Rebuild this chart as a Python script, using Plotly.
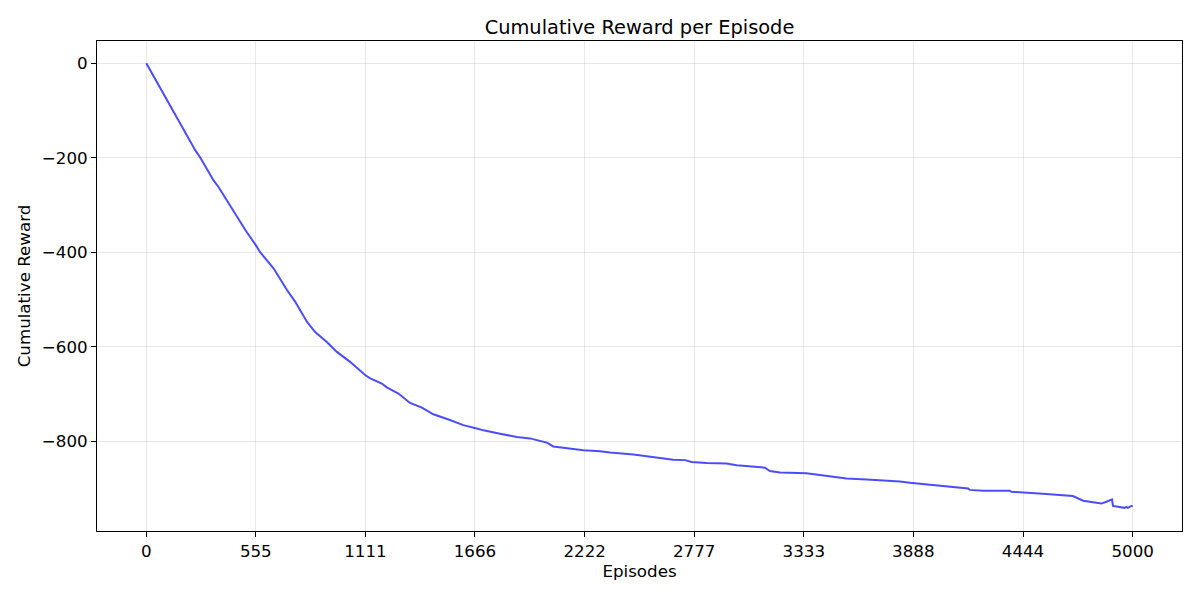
import plotly.graph_objects as go

# points (episode, cumulative reward)
episodes = [0, 248, 274, 341, 366, 468, 502, 555, 577, 645, 713, 755, 780, 814,
            856, 915, 966, 1033, 1109, 1135, 1194, 1219, 1278, 1337, 1397, 1455,
            1532, 1591, 1607, 1675, 1709, 1793, 1878, 1945, 2030, 2063, 2131, 2215,
            2300, 2351, 2469, 2553, 2604, 2671, 2731, 2764, 2840, 2941, 2992, 3060,
            3136, 3161, 3212, 3347, 3414, 3482, 3549, 3651, 3769, 3820, 3870, 3988,
            4073, 4166, 4174, 4242, 4377, 4385, 4545, 4697, 4749, 4816, 4841, 4867,
            4895, 4900, 4959, 4968, 4976, 4993, 5000]
rewards = [0, -184, -200, -248, -262, -332, -353, -385, -400, -434, -480, -505,
           -523, -547, -569, -590, -611, -632, -660, -667, -678, -686, -699, -719,
           -729, -743, -754, -763, -766, -773, -777, -784, -791, -794, -803, -811,
           -814, -819, -821, -824, -828, -833, -836, -839, -840, -844, -846, -847,
           -851, -853, -856, -863, -866, -868, -872, -876, -879, -881, -883, -885,
           -888, -893, -896, -900, -903, -905, -905, -907, -911, -916, -926, -930,
           -932, -928, -923, -937, -941, -939, -941, -937, -937]

x_ticks = [0, 555, 1111, 1666, 2222, 2777, 3333, 3888, 4444, 5000]
y_ticks = [0, -200, -400, -600, -800]

font = 'DejaVu Sans'
grid = 'rgba(176,176,176,0.3)'

fig = go.Figure()
fig.add_trace(go.Scatter(
    x=episodes, y=rewards, mode='lines',
    line=dict(color='rgba(0,0,255,0.7)', width=2),
    showlegend=False
))

axis_common = dict(
    showline=True, linecolor='black', linewidth=1, mirror=True,
    ticks='outside', ticklen=5, tickcolor='black', tickwidth=1,
    showgrid=True, gridcolor=grid, gridwidth=1, zeroline=False,
    tickfont=dict(family=font, size=16.7, color='black'),
    automargin=False,
)

fig.update_xaxes(
    range=[-250, 5250], tickvals=x_ticks, ticktext=[str(t) for t in x_ticks],
    title=dict(text='Episodes', font=dict(family=font, size=16.7, color='black'),
               standoff=4),
    **axis_common
)
fig.update_yaxes(
    range=[-990, 47], tickvals=y_ticks,
    title=dict(text='Cumulative Reward', font=dict(family=font, size=16.7, color='black'),
               standoff=6),
    **axis_common
)

# page body adds ~8px offset, margins compensate
fig.update_layout(
    width=1200, height=600,
    margin=dict(l=89, r=26, t=33, b=77),
    paper_bgcolor='white', plot_bgcolor='white',
    font=dict(family=font, size=16.7, color='black'),
    title=dict(text='Cumulative Reward per Episode', x=0.5, xref='paper',
               y=1 - 19 / 600, yref='container', yanchor='middle',
               font=dict(family=font, size=19.4, color='black'),
               automargin=False),
)

fig.write_html("out.html")
